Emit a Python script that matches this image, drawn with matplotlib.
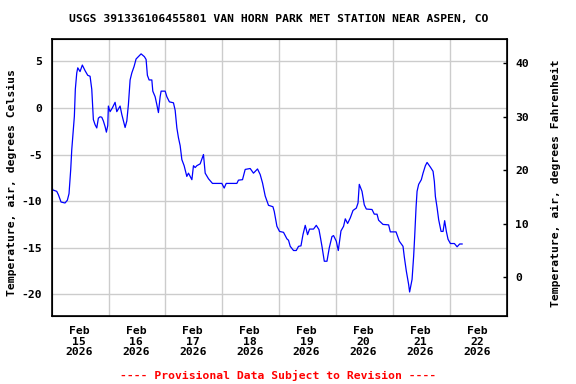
import matplotlib
matplotlib.use("Agg")
import matplotlib.pyplot as plt
import numpy as np

TITLE = "USGS 391336106455801 VAN HORN PARK MET STATION NEAR ASPEN, CO"
FOOTER = "---- Provisional Data Subject to Revision ----"
LEFT_LABEL = "Temperature, air, degrees Celsius"
RIGHT_LABEL = "Temperature, air, degrees Fahrenheit"

# days since Feb 15 00:00, air temperature in deg C
days = [0.000, 0.018, 0.088, 0.116, 0.164, 0.234, 0.275, 0.304, 0.334, 0.352,
        0.380, 0.398, 0.415, 0.440, 0.458, 0.498, 0.538, 0.586, 0.633, 0.674,
        0.704, 0.732, 0.762, 0.792, 0.820, 0.850, 0.880, 0.908, 0.938, 0.961,
        0.985, 0.996, 1.026, 1.066, 1.114, 1.144, 1.202, 1.232, 1.290, 1.320,
        1.348, 1.378, 1.408, 1.448, 1.483, 1.524, 1.571, 1.629, 1.659, 1.682,
        1.712, 1.760, 1.777, 1.818, 1.848, 1.876, 1.906, 1.923, 1.994, 2.024,
        2.069, 2.140, 2.170, 2.200, 2.228, 2.258, 2.288, 2.328, 2.375, 2.404,
        2.434, 2.464, 2.492, 2.522, 2.551, 2.610, 2.645, 2.668, 2.698, 2.756,
        2.826, 2.991, 3.032, 3.067, 3.255, 3.283, 3.354, 3.401, 3.489, 3.547,
        3.618, 3.665, 3.706, 3.753, 3.811, 3.889, 3.912, 3.959, 4.005, 4.075,
        4.135, 4.163, 4.193, 4.251, 4.299, 4.339, 4.382, 4.417, 4.457, 4.498,
        4.533, 4.603, 4.651, 4.698, 4.721, 4.751, 4.792, 4.839, 4.880, 4.927,
        4.955, 5.003, 5.038, 5.085, 5.131, 5.161, 5.202, 5.249, 5.297, 5.355,
        5.385, 5.407, 5.455, 5.495, 5.531, 5.631, 5.671, 5.719, 5.747, 5.824,
        5.923, 5.953, 6.053, 6.111, 6.176, 6.199, 6.234, 6.275, 6.292, 6.335,
        6.363, 6.381, 6.405, 6.423, 6.451, 6.498, 6.528, 6.569, 6.599, 6.657,
        6.704, 6.727, 6.745, 6.775, 6.803, 6.845, 6.880, 6.908, 6.938, 6.968,
        7.009, 7.079, 7.127, 7.172, 7.215]
temp_c = [-8.3, -8.8, -8.95, -9.3, -10.1, -10.2, -9.9, -9.2, -6.6, -4.5,
          -2.3, -0.9, 2.0, 3.75, 4.3, 3.9, 4.6, 4.0, 3.5, 3.4,
          2.0, -1.25, -1.8, -2.15, -1.1, -0.95, -1.0, -1.4, -2.0, -2.6,
          -1.9, 0.2, -0.4, 0.0, 0.6, -0.4, 0.2, -0.7, -2.1, -1.4,
          0.35, 3.0, 3.75, 4.45, 5.25, 5.5, 5.8, 5.5, 5.2, 3.5,
          3.0, 3.0, 1.8, 1.2, 0.35, -0.5, 1.2, 1.8, 1.8, 1.2,
          0.65, 0.55, -0.25, -2.15, -3.2, -4.05, -5.55, -6.2, -7.35, -7.0,
          -7.35, -7.7, -6.2, -6.4, -6.2, -6.0, -5.4, -5.0, -7.0, -7.6,
          -8.1, -8.1, -8.6, -8.1, -8.1, -7.75, -7.7, -6.6, -6.5, -7.0,
          -6.55, -7.15, -8.05, -9.45, -10.45, -10.6, -11.1, -12.7, -13.25, -13.35,
          -14.05, -14.2, -14.85, -15.3, -15.3, -14.85, -14.8, -13.6, -12.6, -13.6,
          -13.0, -13.0, -12.6, -13.05, -13.8, -14.85, -16.45, -16.45, -15.0, -13.8,
          -13.7, -14.3, -15.3, -13.2, -12.7, -11.9, -12.4, -11.8, -11.0, -10.75,
          -10.2, -8.2, -8.95, -10.4, -10.85, -10.9, -11.4, -11.4, -12.05, -12.5,
          -12.55, -13.3, -13.3, -14.3, -14.85, -16.0, -17.5, -18.95, -19.75, -18.4,
          -15.9, -13.8, -10.7, -8.95, -8.2, -7.7, -7.0, -6.2, -5.85, -6.35,
          -6.8, -7.9, -9.5, -10.7, -12.0, -13.25, -13.25, -12.1, -13.25, -14.1,
          -14.55, -14.55, -14.9, -14.6, -14.6]

date_labels = ["Feb\n15\n2026", "Feb\n16\n2026", "Feb\n17\n2026", "Feb\n18\n2026",
               "Feb\n19\n2026", "Feb\n20\n2026", "Feb\n21\n2026", "Feb\n22\n2026"]
c_ticks = [5, 0, -5, -10, -15, -20]
f_ticks = [40, 30, 20, 10, 0]

FONT = "DejaVu Sans Mono"
FS = 8.2

fig = plt.figure(figsize=(5.76, 3.84), dpi=100)
ax = fig.add_axes([0.0898, 0.177, 0.790, 0.7206])

ax.plot(days, temp_c, color="#0000ff", lw=0.9)

ax.set_xlim(0, 8)
ax.set_ylim(-22.33, 7.36)
ax.set_xticks(np.arange(1, 8))
ax.set_xticks(np.arange(len(date_labels)) + 0.48, minor=True)
ax.set_xticklabels([], minor=False)
ax.set_xticklabels(date_labels, minor=True, fontfamily=FONT, fontsize=FS,
                   fontweight="bold", linespacing=1.1)
ax.tick_params(axis="x", which="both", length=0, pad=7)
ax.set_yticks(c_ticks)
ax.set_yticklabels([str(t) for t in c_ticks], fontfamily=FONT, fontsize=FS,
                   fontweight="bold")
ax.tick_params(axis="y", length=0, pad=7)
ax.grid(True, which="major", color="#cccccc", lw=1.0)
ax.set_axisbelow(True)
for s in ax.spines.values():
    s.set_linewidth(1.2)

ax2 = ax.twinx()
ax2.set_ylim(-7.23, 44.49)
ax2.set_yticks(f_ticks)
ax2.set_yticklabels([str(t) for t in f_ticks], fontfamily=FONT, fontsize=FS,
                    fontweight="bold")
ax2.tick_params(axis="y", direction="in", length=3, width=1, pad=6)

# axis titles, placed in figure pixels
fig.text(12 / 576, 1 - 183 / 384, LEFT_LABEL, rotation=90, ha="center",
         va="center", fontfamily=FONT, fontsize=FS, fontweight="bold")
fig.text(556 / 576, 1 - 183 / 384, RIGHT_LABEL, rotation=90, ha="center",
         va="center", fontfamily=FONT, fontsize=FS, fontweight="bold")

fig.text(0.483, 0.95, TITLE, ha="center", va="center", fontfamily=FONT,
         fontsize=FS, fontweight="bold")
fig.text(0.482, 0.023, FOOTER, ha="center", va="center", color="#ff0000",
         fontfamily=FONT, fontsize=FS, fontweight="bold")

fig.savefig("out.png", dpi=100)
